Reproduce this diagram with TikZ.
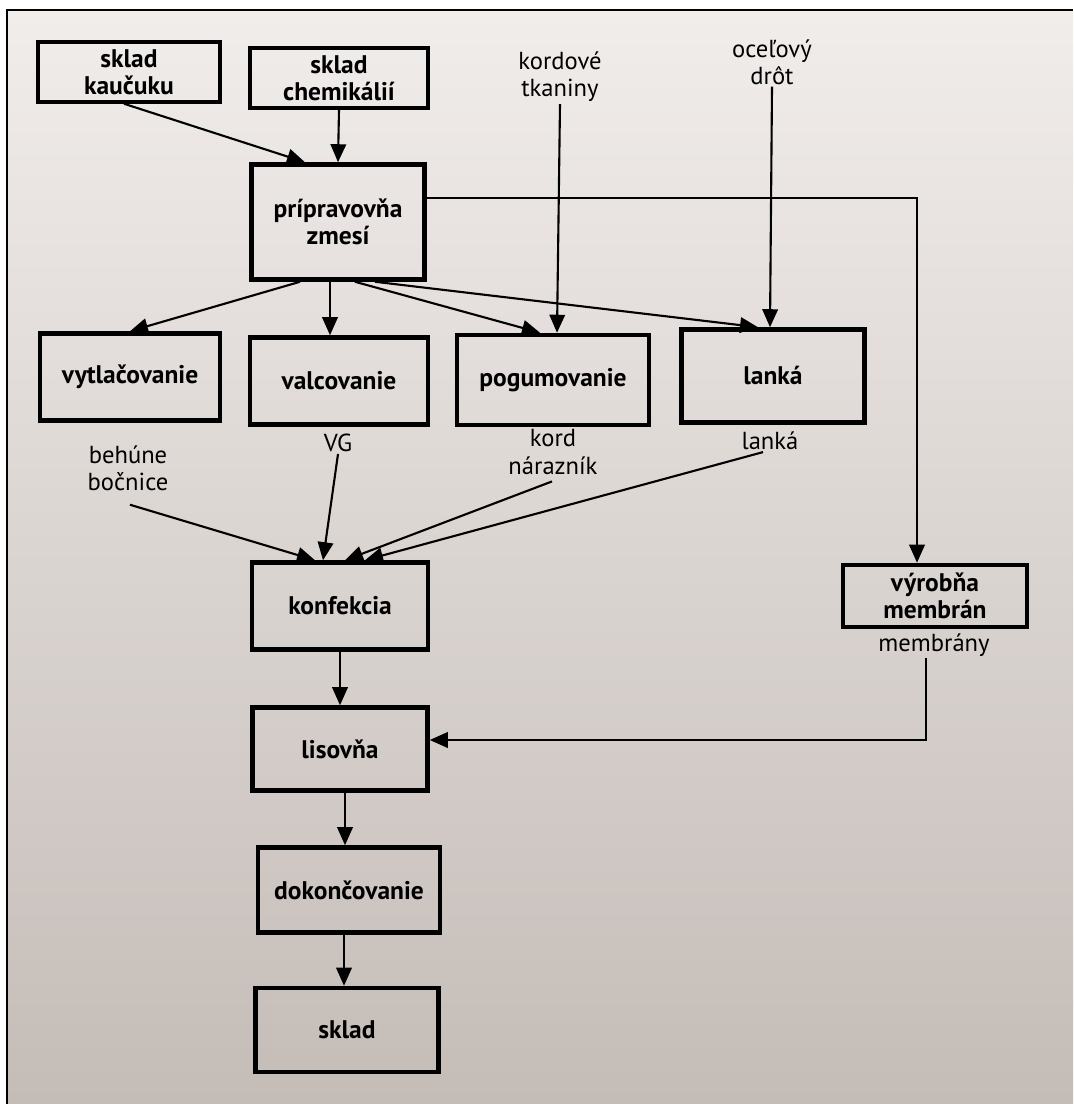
\documentclass[tikz,border=0pt]{standalone}
\usepackage{fontspec}
\setmainfont{PT Sans}
\usetikzlibrary{arrows.meta,calc}
\definecolor{paperTop}{RGB}{241,237,235}
\definecolor{paperBot}{RGB}{196,188,183}

\begin{document}
\begin{tikzpicture}[
    x=0.02cm, y=-0.02cm,
    box/.style={draw, line width=2.6pt, align=center, inner sep=2pt,
                font=\fontsize{14.5}{15.5}\selectfont\bfseries},
    srcbox/.style={box, line width=2pt},
    lbl/.style={align=center, inner sep=1pt,
                font=\fontsize{14}{15.5}\selectfont},
    arr/.style={-{Triangle[length=3.6mm,width=3.1mm]}, line width=1.2pt},
    ln/.style={line width=1.2pt}
]
\useasboundingbox (0,0) rectangle (1073,1104);
\shade[top color=paperTop, bottom color=paperBot] (7,10) rectangle (1073,1104);
\draw[line width=1.2pt] (7,1104) -- (7,10) -- (1073,10);

% zdroje
\node[srcbox, minimum width=3.64cm, minimum height=1.2cm] (skaucuk) at (129,72) {sklad\\kaučuku};
\node[srcbox, minimum width=3.56cm, minimum height=1.2cm] (schem) at (339,78) {sklad\\chemikálií};
\node[lbl] (kordtk) at (560,77) {kordové\\tkaniny};
\node[lbl] (drot) at (772,62) {oceľový\\drôt};

\node[box, minimum width=3.46cm, minimum height=2.3cm] (priprav) at (338,222) {prípravovňa\\zmesí};

% medziprodukty
\node[box, minimum width=3.6cm, minimum height=1.74cm] (vytl) at (130,377) {vytlačovanie};
\node[box, minimum width=3.56cm, minimum height=1.74cm] (valc) at (339,381) {valcovanie};
\node[box, minimum width=3.84cm, minimum height=1.8cm] (pogum) at (553,380) {pogumovanie};
\node[box, minimum width=3.66cm, minimum height=1.86cm] (lanka) at (773,376) {lanká};

\node[lbl] (behune) at (128,468) {behúne\\bočnice};
\node[lbl] (vg) at (338,443) {VG};
\node[lbl] (kord) at (553,452) {kord\\nárazník};
\node[lbl] (lankal) at (770,441) {lanká};

\node[box, minimum width=3.68cm, minimum height=1.24cm] (vyrobna) at (935,596) {výrobňa\\membrán};
\node[lbl] (membr) at (934,645) {membrány};

% hlavna linka
\node[box, minimum width=3.52cm, minimum height=1.74cm] (konf) at (340,606) {konfekcia};
\node[box, minimum width=3.5cm, minimum height=1.66cm] (lisov) at (340,749) {lisovňa};
\node[box, minimum width=3.64cm, minimum height=1.7cm] (dokon) at (349,890) {dokončovanie};
\node[box, minimum width=3.66cm, minimum height=1.68cm] (sklad) at (347,1030) {sklad};

\coordinate (cmem) at (917,198);
\coordinate (cmb) at (926,740);

\draw[arr] ($(skaucuk.south)+(-5,0)$) -- ($(priprav.north)+(-33,0)$);
\draw[arr] (schem.south) -- (priprav.north);
\draw[arr] (kordtk.south) -- ($(pogum.north)+(4,0)$);
\draw[arr] (drot.south) -- ($(lanka.north)+(-3,0)$);

\draw[arr] ($(priprav.south)+(-38,0)$) -- (vytl.north);
\draw[arr] ($(priprav.south)+(-8,0)$) -- ($(valc.north)+(-9,0)$);
\draw[arr] ($(priprav.south)+(17,0)$) -- ($(pogum.north)+(-13,0)$);
\draw[arr] ($(priprav.south)+(37,0)$) -- ($(lanka.north)+(-15,0)$);
\draw[arr] (priprav.east |- cmem) -- (cmem) -- (cmem |- vyrobna.north);

\draw[arr] ($(behune.south)+(2,12)$) -- ($(konf.north)+(-25,0)$);
\draw[arr] (vg.south) -- ($(konf.north)+(-17,0)$);
\draw[arr] ($(kord.south)+(-1,5)$) -- ($(konf.north)+(5,0)$);
\draw[arr] ($(lankal.south)+(-7,0)$) -- ($(konf.north)+(25,0)$);

\draw[arr] (konf) -- (lisov);
\draw[arr] (membr.south -| cmb) -- (cmb) -- (cmb -| lisov.east);
\draw[arr] ($(lisov.south)+(5,0)$) -- ($(dokon.north)+(-4,0)$);
\draw[arr] ($(dokon.south)+(-5,0)$) -- ($(sklad.north)+(-3,0)$);
\end{tikzpicture}
\end{document}
